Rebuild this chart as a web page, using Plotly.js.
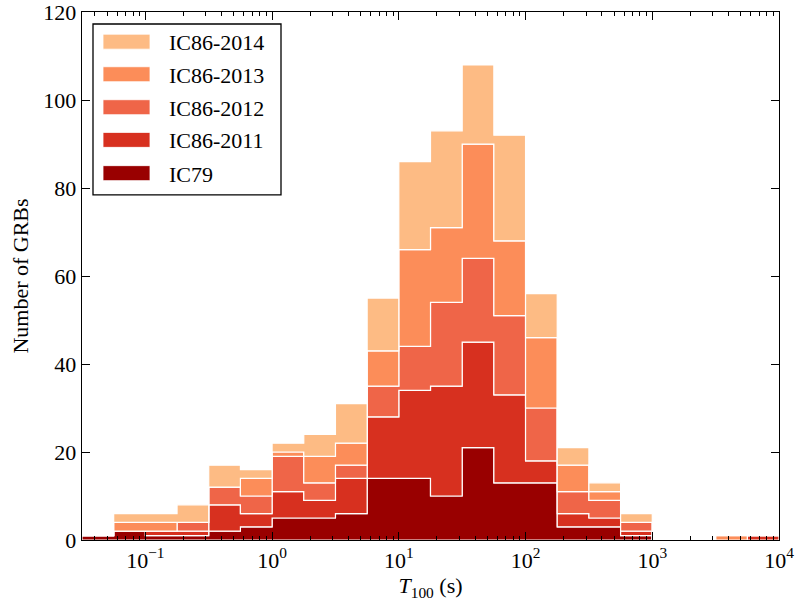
<!DOCTYPE html>
<html>
<head>
<meta charset="utf-8">
<script src="https://cdn.plot.ly/plotly-3.0.1.min.js"></script>
<style>html,body{margin:0;padding:0;background:#fff;}#chart{width:796px;height:601px;}</style>
</head>
<body>
<div id="chart"></div>
<script>
// Histogram bin edges (log10 of T100 in seconds)
const binEdgesLog10 = [-1.5,-1.25,-1.0,-0.75,-0.5,-0.25,0.0,0.25,0.5,0.75,1.0,1.25,1.5,1.75,2.0,2.25,2.5,2.75,3.0,3.25,3.5,3.75,4.0];

// Counts per bin for each sample (stacked bottom -> top)
const countsIC79     = [1,2,1,1,2,3,5,5,6,14,14,10,21,13,13,3,3,1,0,0,0,0];
const countsIC862011 = [0,0,1,1,6,3,6,4,8,14,20,25,24,20,5,3,2,1,0,0,0,1];
const countsIC862012 = [0,0,0,2,4,4,8,4,3,7,10,19,19,18,12,5,4,2,0,0,0,0];
const countsIC862013 = [0,2,2,0,0,4,1,6,5,8,22,17,26,17,16,6,2,0,0,0,1,0];
const countsIC862014 = [0,2,2,4,5,2,2,5,9,12,20,22,18,24,10,4,2,2,0,0,0,0];

const seriesNames  = ['IC79','IC86-2011','IC86-2012','IC86-2013','IC86-2014'];
const seriesColors = ['#990000','#d7301f','#ef6548','#fc8d59','#fdbb84'];
const seriesCounts = [countsIC79, countsIC862011, countsIC862012, countsIC862013, countsIC862014];

const xTickVals = [0.1, 1, 10, 100, 1000, 10000];
const xTickText = ['10<sup>\u22121</sup>','10<sup>0</sup>','10<sup>1</sup>','10<sup>2</sup>','10<sup>3</sup>','10<sup>4</sup>'];
const yTickVals = [0, 20, 40, 60, 80, 100, 120];
const yTickText = ['0', '20', '40', '60', '80', '100', '120'];

const FONT = 'Liberation Serif, Times New Roman, serif';

// build stacked step polygons
const edgesX = binEdgesLog10.map(e => Math.pow(10, e));
let prev = new Array(countsIC79.length).fill(0);
const traces = [];
seriesCounts.forEach((cnt, i) => {
  const cum = cnt.map((v, j) => v + prev[j]);
  const xs = [], ys = [];
  for (let j = 0; j < cum.length; j++) { xs.push(edgesX[j], edgesX[j+1]); ys.push(cum[j], cum[j]); }
  for (let j = cum.length - 1; j >= 0; j--) { xs.push(edgesX[j+1], edgesX[j]); ys.push(prev[j], prev[j]); }
  xs.push(xs[0]); ys.push(ys[0]);
  traces.push({
    type: 'scatter', mode: 'lines', x: xs, y: ys, fill: 'toself',
    fillcolor: seriesColors[i], line: {color: '#ffffff', width: 1.2},
    name: seriesNames[i], showlegend: false, hoverinfo: 'skip'
  });
  prev = cum;
});

// plot area geometry (pixels)
const L = 82, R = 779, T = 12, B = 540.5;
const W = 796, H = 601;
const px = x => (x - L) / (R - L);
const py = y => (B - y) / (B - T);

// custom legend (matplotlib-like)
const shapes = [{type:'rect', xref:'paper', yref:'paper', x0:px(93), x1:px(281), y0:py(195), y1:py(24),
  line:{color:'#000', width:1.3}, fillcolor:'#fff', layer:'above'}];
const annotations = [];
const legendRowsY = [41.7, 74.3, 107.3, 140, 173.3];
for (let k = 0; k < 5; k++) {
  const i = 4 - k;
  const cy = legendRowsY[k];
  shapes.push({type:'rect', xref:'paper', yref:'paper', x0:px(103), x1:px(150), y0:py(cy+7.5), y1:py(cy-7.5),
    line:{color:'#ffffff', width:0.8}, fillcolor:seriesColors[i], layer:'above'});
  annotations.push({xref:'paper', yref:'paper', x:px(167), y:py(cy+1), xanchor:'left', yanchor:'middle',
    text:seriesNames[i], showarrow:false, font:{family:FONT, size:22, color:'#000'}});
}

const layout = {
  width: W, height: H,
  margin: {l: L, r: W - R, t: T, b: H - B},
  paper_bgcolor: '#fff', plot_bgcolor: '#fff',
  showlegend: false,
  font: {family: FONT, size: 22, color: '#000'},
  xaxis: {
    type: 'log', range: [-1.5, 4], autorange: false,
    tickmode: 'array', tickvals: xTickVals, ticktext: xTickText,
    ticks: 'inside', ticklen: 8, tickwidth: 1, tickcolor: '#000',
    minor: {ticks: 'inside', ticklen: 4, tickwidth: 1, tickcolor: '#000', dtick: 'D1', showgrid: false},
    showline: true, linecolor: '#000', linewidth: 1.3, mirror: 'allticks',
    showgrid: false, zeroline: false, ticklabeloverflow: 'allow',
    tickfont: {family: FONT, size: 22},
    title: {text: '<i>T</i><sub>100</sub> (s)', font: {family: FONT, size: 22}, standoff: 6}
  },
  yaxis: {
    range: [0, 120.02], autorange: false, tickmode: 'array', tickvals: yTickVals, ticktext: yTickText,
    ticks: 'inside', ticklen: 8, tickwidth: 1, tickcolor: '#000',
    showline: true, linecolor: '#000', linewidth: 1.3, mirror: 'allticks',
    showgrid: false, zeroline: false, ticklabeloverflow: 'allow',
    tickfont: {family: FONT, size: 22},
    title: {text: 'Number of GRBs', font: {family: FONT, size: 22}, standoff: 8}
  },
  shapes: shapes,
  annotations: annotations
};

Plotly.newPlot('chart', traces, layout, {displayModeBar: false, staticPlot: true});
</script>
</body>
</html>
